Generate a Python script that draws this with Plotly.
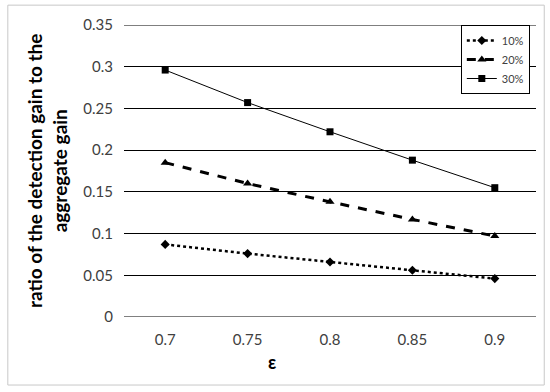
import plotly.graph_objects as go

categories = ["0.7", "0.75", "0.8", "0.85", "0.9"]
series_names = ["10%", "20%", "30%"]
vals_10 = [0.087, 0.076, 0.066, 0.056, 0.046]
vals_20 = [0.185, 0.160, 0.138, 0.117, 0.097]
vals_30 = [0.296, 0.257, 0.222, 0.188, 0.155]
y_ticks = [0, 0.05, 0.1, 0.15, 0.2, 0.25, 0.3, 0.35]
y_ticklabels = ["0", "0.05", "0.1", "0.15", "0.2", "0.25", "0.3", "0.35"]

FONT = "Lato, Liberation Sans, sans-serif"

fig = go.Figure()
fig.add_trace(go.Scatter(x=categories, y=vals_10, name=series_names[0], mode="lines+markers",
                         line=dict(color="black", width=2.5, dash="dot"),
                         marker=dict(symbol="diamond", size=7, color="black")))
fig.add_trace(go.Scatter(x=categories, y=vals_20, name=series_names[1], mode="lines+markers",
                         line=dict(color="black", width=3, dash="dash"),
                         marker=dict(symbol="triangle-up", size=8, color="black")))
fig.add_trace(go.Scatter(x=categories, y=vals_30, name=series_names[2], mode="lines+markers",
                         line=dict(color="black", width=1),
                         marker=dict(symbol="square", size=7, color="black")))

# gridlines at the range ends (plotly hides them at the plot edges)
edge_lines = [dict(type="line", xref="paper", yref="y", x0=0, x1=1,
                   y0=v, y1=v, line=dict(color="black", width=1), layer="below")
              for v in (y_ticks[0], y_ticks[-1])]

fig.update_layout(
    width=550, height=392,
    margin=dict(l=124, r=14, t=25, b=75),
    paper_bgcolor="white", plot_bgcolor="white",
    font=dict(family=FONT, color="#404040", size=15),
    showlegend=True,
    legend=dict(x=0.985, y=1.0, xanchor="right", yanchor="top",
                bgcolor="white", bordercolor="black", borderwidth=1,
                font=dict(size=11, color="#404040"), tracegroupgap=0,
                itemwidth=30),
    xaxis=dict(type="category", showgrid=False, zeroline=False, showline=False,
               ticks="", tickfont=dict(size=15, color="#404040"),
               ticklabelstandoff=12, range=[-0.5, 4.5]),
    yaxis=dict(range=[0, 0.35], tickvals=y_ticks, ticktext=y_ticklabels,
               showgrid=True, gridcolor="black", gridwidth=1, zeroline=False,
               showline=False, ticks="", ticklabelstandoff=10,
               tickfont=dict(size=15, color="#404040")),
    shapes=edge_lines + [dict(type="rect", xref="paper", yref="paper",
                 x0=-0.282, x1=1.02, y0=-0.233, y1=1.068,
                 line=dict(color="#c8c8c8", width=1), fillcolor="rgba(0,0,0,0)")],
    annotations=[
        dict(text="<b>ratio of the detection gain to the<br>aggregate gain</b>",
             xref="paper", yref="paper", x=-0.187, y=0.5, xanchor="center", yanchor="middle",
             textangle=-90, showarrow=False,
             font=dict(size=19, color="black", family=FONT)),
        dict(text="<b>ε</b>", xref="paper", yref="paper", x=0.36, y=-0.155,
             xanchor="center", yanchor="middle", showarrow=False,
             font=dict(size=18, color="black", family=FONT)),
    ],
)

fig.write_html("out.html", config={"displayModeBar": False},
               post_script="document.body.style.margin='0';")
